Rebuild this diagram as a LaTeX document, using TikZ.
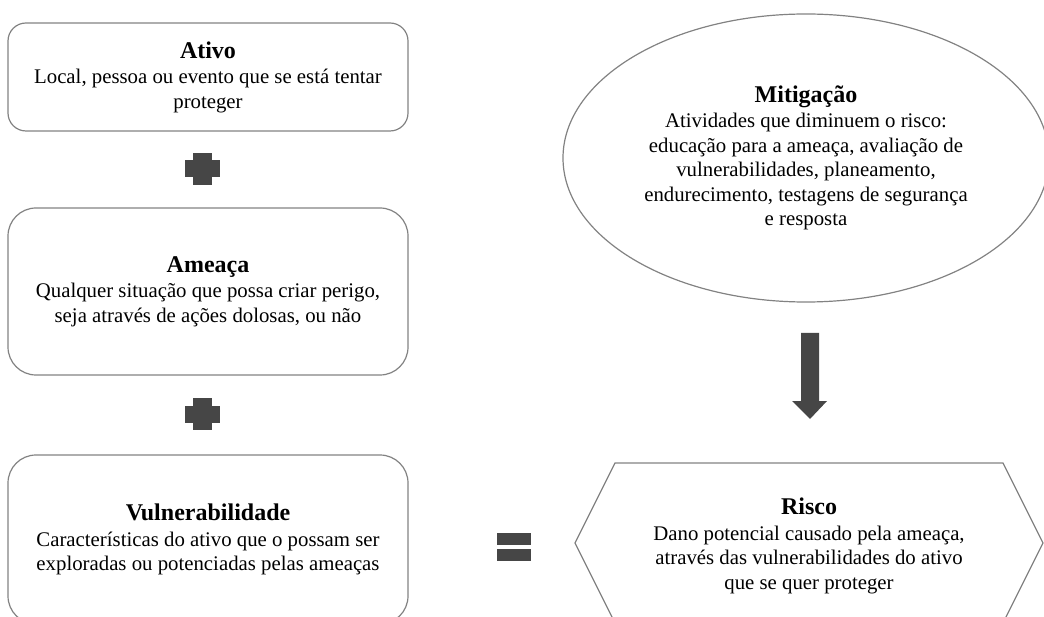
\documentclass[tikz,border=0pt]{standalone}
\usepackage{fontspec}
\setmainfont{Liberation Serif}
\usepackage{tikz}
\usetikzlibrary{shapes.geometric}

\definecolor{edgegray}{RGB}{130,130,130}
\definecolor{markgray}{RGB}{70,70,70}
\newcommand{\titulo}[1]{{\fontsize{24}{25}\selectfont\bfseries #1}\\[1pt]}

\tikzset{
	texto/.style={align=center, inner sep=0pt, font=\fontsize{20.8}{24.5}\selectfont},
	caixa/.style={texto, draw=edgegray, line width=1.2pt, rounded corners=#1, minimum width=400pt},
	contorno/.style={draw=edgegray, line width=1.2pt},
	marca/.style={fill=markgray}
}

\begin{document}
\begin{tikzpicture}[x=1pt, y=-1pt]
		\useasboundingbox (0,0) rectangle (1044,617);
		\clip (0,0) rectangle (1044,617);
		% left column
		\node[caixa=18, minimum height=108pt] (ativo) at (208,77) {\titulo{Ativo}Local, pessoa ou evento que se está tentar\\proteger};
		\node[caixa=28, minimum height=167pt] (ameaca) at (208,291.5) {\titulo{Ameaça}Qualquer situação que possa criar perigo,\\seja através de ações dolosas, ou não};
		\node[caixa=28, minimum height=169pt] (vulner) at (208,539.5) {\titulo{Vulnerabilidade}Características do ativo que o possam ser\\exploradas ou potenciadas pelas ameaças};
		% plus signs
		\fill[marca] (192.5,153) rectangle (211.5,185);
		\fill[marca] (184.5,160.5) rectangle (219.5,177.5);
		\fill[marca] (192.5,398) rectangle (211.5,430);
		\fill[marca] (184.5,405.5) rectangle (219.5,422.5);
		% equals sign
		\fill[marca] (497,533) rectangle (531,545);
		\fill[marca] (497,549) rectangle (531,561);
		% right column
		\node[texto, ellipse, contorno, minimum width=486pt, minimum height=288pt] (mitiga) at (806,158) {\titulo{Mitigação}Atividades que diminuem o risco:\\educação para a ameaça, avaliação de\\vulnerabilidades, planeamento,\\endurecimento, testagens de segurança\\e resposta};
		\fill[marca] (801,333) -- (819,333) -- (819,401) -- (827,401) -- (810,419) -- (792,401) -- (801,401) -- cycle;
		\draw[contorno] (575,543) -- (615,463) -- (1003,463) -- (1043,543) -- (1003,623) -- (615,623) -- cycle;
		\node[texto] (risco) at (809,546) {\titulo{Risco}Dano potencial causado pela ameaça,\\através das vulnerabilidades do ativo\\que se quer proteger};
	% risk = asset + threat + vulnerability
	\end{tikzpicture}
\end{document}
